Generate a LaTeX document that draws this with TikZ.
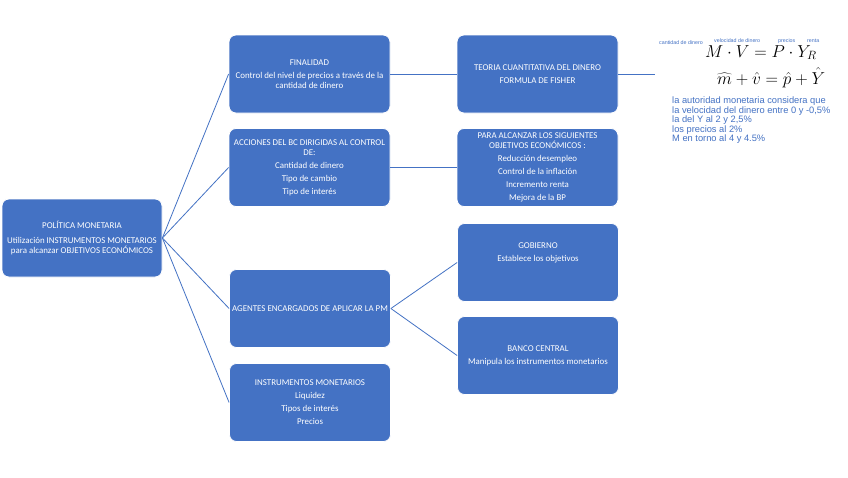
\documentclass[tikz,border=0pt]{standalone}
\usepackage{fontspec}
\setmainfont{Carlito}
\newfontfamily\arialf{Liberation Sans}
\definecolor{boxblue}{RGB}{68,114,196}
\definecolor{lineblue}{RGB}{68,114,196}
\definecolor{txtblue}{RGB}{68,114,196}
\begin{document}
\begin{tikzpicture}[x=1pt,y=-1pt,
  box/.style={draw=white, line width=0.8pt, fill=boxblue, rounded corners=7pt,
    minimum width=161pt, minimum height=78pt, text=white, align=center,
    font=\fontsize{8.9}{10}\selectfont, inner sep=2pt},
  conn/.style={draw=lineblue, line width=0.8pt},
  tiny/.style={text=txtblue, font=\arialf\fontsize{5.3}{6}\selectfont, inner sep=0pt, anchor=base west},
  note/.style={text=txtblue, font=\arialf\fontsize{9.3}{9.4}\selectfont, inner sep=0pt, anchor=north west, align=left}]
\useasboundingbox (0,0) rectangle (848,477);
\fill[white] (0,0) rectangle (848,477);

\node[box, minimum width=160pt] (root) at (82,238) {POLÍTICA MONETARIA\\[5pt]Utilización INSTRUMENTOS MONETARIOS\\para alcanzar OBJETIVOS ECONÓMICOS};

\node[box] (fin) at (309.5,74) {FINALIDAD\\[3pt]Control del nivel de precios a través de la\\cantidad de dinero};
\node[box] (acc) at (309.5,167.5) {ACCIONES DEL BC DIRIGIDAS AL CONTROL\\DE:\\[3pt]Cantidad de dinero\\[3pt]Tipo de cambio\\[3pt]Tipo de interés};
\node[box] (age) at (310,308.5) {AGENTES ENCARGADOS DE APLICAR LA PM};
\node[box] (ins) at (310,402.5) {INSTRUMENTOS MONETARIOS\\[3pt]Liquidez\\[3pt]Tipos de interés\\[3pt]Precios};

\node[box] (teo) at (537.5,74) {TEORIA CUANTITATIVA DEL DINERO\\[3pt]FORMULA DE FISHER};
\node[box] (para) at (537.5,167.5) {PARA ALCANZAR LOS SIGUIENTES\\OBJETIVOS ECONÓMICOS :\\[3pt]Reducción desempleo\\[3pt]Control de la inflación\\[3pt]Incremento renta\\[3pt]Mejora de la BP};
\node[box] (gob) at (538,262.5) {GOBIERNO\\[3pt]Establece los objetivos\\[10pt]\mbox{}};
\node[box] (ban) at (538,355.5) {BANCO CENTRAL\\[3pt]Manipula los instrumentos monetarios};

\draw[conn] (root.east) -- (fin.west);
\draw[conn] (root.east) -- (acc.west);
\draw[conn] (root.east) -- (age.west);
\draw[conn] (root.east) -- (ins.west);
\draw[conn] (fin.east) -- (teo.west);
\draw[conn] (acc.east) -- (para.west);
\draw[conn] (age.east) -- (gob.west);
\draw[conn] (age.east) -- (ban.west);
\coordinate (fend) at (655,74);
\draw[conn] (teo.east) -- (fend);

\node[tiny] (l1) at (659,44.5) {cantidad de dinero};
\node[tiny] (l2) at (714,42.5) {velocidad de dinero};
\node[tiny] (l3) at (778,42.5) {precios};
\node[tiny] (l4) at (807,42.5) {renta};
\node[inner sep=0pt, anchor=base west, font=\fontsize{17}{20}\selectfont] (eq1) at (705,57) {$M\cdot V = P\cdot Y_R$};
\node[inner sep=0pt, anchor=base west, font=\fontsize{17}{20}\selectfont] (eq2) at (717,84) {$\widehat{m}+\hat{v}=\hat{p}+\hat{Y}$};

\node[note] (nt) at (672,97) {la autoridad monetaria considera que\\la velocidad del dinero entre 0 y -0,5\%\\la del Y al 2 y 2,5\%\\los precios al 2\%\\M en torno al 4 y 4.5\%};
\end{tikzpicture}
\end{document}
